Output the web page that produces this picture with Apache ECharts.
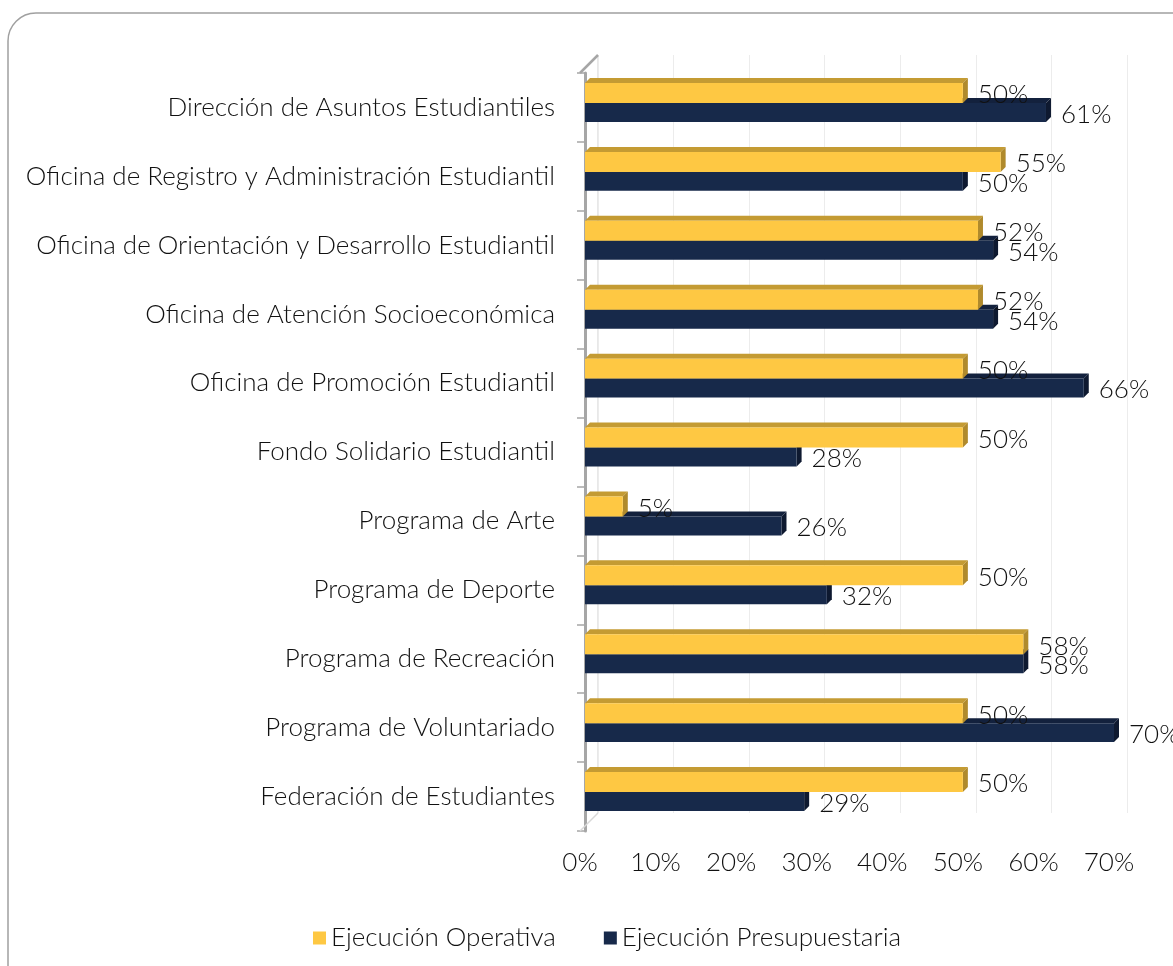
<!DOCTYPE html>
<html><head><meta charset="utf-8">
<script src="https://cdn.jsdelivr.net/npm/echarts@6/dist/echarts.min.js"></script>
<style>html,body{margin:0;padding:0;background:#fff}#c{width:1173px;height:966px}</style>
</head><body><div id="c"></div>
<script>
var categories = ['Dirección de Asuntos Estudiantiles','Oficina de Registro y Administración Estudiantil','Oficina de Orientación y Desarrollo Estudiantil','Oficina de Atención Socioeconómica','Oficina de Promoción Estudiantil','Fondo Solidario Estudiantil','Programa de Arte','Programa de Deporte','Programa de Recreación','Programa de Voluntariado','Federación de Estudiantes'];
var operativa = [50,55,52,52,50,50,5,50,58,50,50];
var presupuestaria = [61,50,54,54,66,28,26,32,58,70,29];
var seriesNames = ['Ejecución Operativa','Ejecución Presupuestaria'];
var xTicks = [0,10,20,30,40,50,60,70];

var FONT = 'Lato';
var FS = 26;
var FW = 300;
var chart = echarts.init(document.getElementById('c'));

function render(offTop, offBot, front, top, side){
  return function(params, api){
    var ci = api.value(1), v = api.value(0);
    var p0 = api.coord([0, ci]), p1 = api.coord([v, ci]);
    var band = api.size([0,1])[1];
    var y0 = p0[1] + band*offTop, y1 = p0[1] + band*offBot;
    var x0 = p0[0], x1 = p1[0], d = 5;
    return {type:'group', children:[
      {type:'polygon', shape:{points:[[x0,y0],[x0+d,y0-d],[x1+d,y0-d],[x1,y0]]}, style:{fill:top}},
      {type:'polygon', shape:{points:[[x1,y0],[x1+d,y0-d],[x1+d,y1-d],[x1,y1]]}, style:{fill:side}},
      {type:'rect', shape:{x:x0,y:y0,width:x1-x0,height:y1-y0}, style:{fill:front}},
      {type:'text', style:{text:v+'%', x:x1+15, y:(y0+y1)/2+2, verticalAlign:'middle', fill:'#111', font:FW+' '+FS+'px '+FONT}}
    ]};
  };
}

chart.setOption({
  animation:false,
  graphic:[
    {type:'rect', shape:{x:8,y:13,width:1250,height:1050,r:28}, style:{fill:'none',stroke:'#a0a0a0',lineWidth:1.5}, z:-1},
    {type:'line', shape:{x1:598,y1:55,x2:598,y2:813}, style:{stroke:'#e0e0e0',lineWidth:1.5}, z:0},
    {type:'line', shape:{x1:580,y1:73,x2:598,y2:55}, style:{stroke:'#a6a6a6',lineWidth:2.5}, z:1},
    {type:'line', shape:{x1:580,y1:831,x2:598,y2:813}, style:{stroke:'#d8d8d8',lineWidth:1.5}, z:1}
  ],
  legend:{left:308, top:920, itemWidth:13, itemHeight:13, itemGap:48, icon:'rect',
    data:seriesNames, textStyle:{fontFamily:FONT, fontSize:FS, fontWeight:FW, color:'#111'}},
  grid:[
    {left:585, right:59, top:73, bottom:135},
    {left:598, right:46, top:55, bottom:153}
  ],
  xAxis:[
    {type:'value', gridIndex:0, min:0, max:70, interval:10,
      axisLabel:{formatter:function(v){return v+'%';}, fontFamily:FONT, fontSize:FS, fontWeight:FW, color:'#111', margin:19, padding:[0,10,0,0]},
      axisLine:{show:false}, axisTick:{show:false}, splitLine:{show:false}},
    {type:'value', gridIndex:1, min:0, max:70, interval:10, axisLabel:{show:false}, axisLine:{show:false}, axisTick:{show:false},
      splitLine:{show:true, lineStyle:{color:'#ececec', width:1}}}
  ],
  yAxis:[
    {type:'category', gridIndex:0, data:categories, inverse:true, offset:5,
      axisLabel:{fontFamily:FONT, fontSize:FS, fontWeight:FW, color:'#111', margin:25},
      axisLine:{show:true, lineStyle:{color:'#a6a6a6', width:3}},
      axisTick:{show:true, length:8, lineStyle:{color:'#a6a6a6', width:1.5}}},
    {type:'category', gridIndex:1, data:categories, inverse:true, show:false}
  ],
  series:[
    {name:seriesNames[0], type:'custom', xAxisIndex:0, yAxisIndex:0, z:4,
      itemStyle:{color:'#FEC843'}, renderItem:render(-0.355,-0.065,'#FEC843','#C49B33','#B08A2C'),
      data:operativa.map(function(v,i){return [v,i];}), encode:{x:0,y:1}},
    {name:seriesNames[1], type:'custom', xAxisIndex:0, yAxisIndex:0, z:3,
      itemStyle:{color:'#17294A'}, renderItem:render(-0.065,0.21,'#17294A','#13213D','#0E1930'),
      data:presupuestaria.map(function(v,i){return [v,i];}), encode:{x:0,y:1}}
  ]
});
</script></body></html>
